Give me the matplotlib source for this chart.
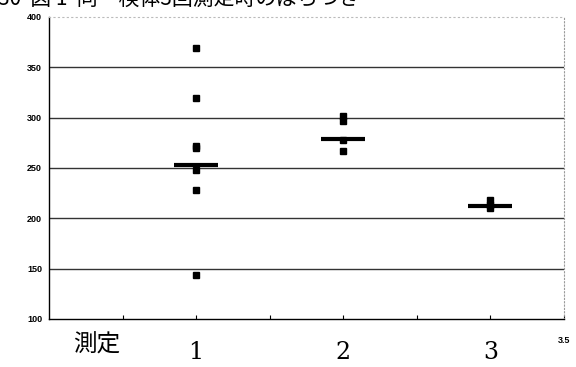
import matplotlib
matplotlib.use("Agg")
import matplotlib.pyplot as plt

# Data
groups = [1, 2, 3]
group_labels = ["1", "2", "3"]
values_1 = [369, 320, 272, 270, 248, 228, 144]
values_2 = [302, 297, 278, 267]
values_3 = [218, 213, 210]
means = [253, 279, 212]
y_ticks = [100, 150, 200, 250, 300, 350, 400]
title_text = "30  図 1  同一検体3回測定時のばらつき"
axis_label = "測定"

fig = plt.figure(figsize=(5.76, 3.67), dpi=100)
ax = fig.add_axes([0.0851, 0.1308, 0.979 - 0.0851, 0.9537 - 0.1308])

ax.set_xlim(0, 3.5)
ax.set_ylim(100, 400)

# gridlines
for y in y_ticks[1:-1]:
    ax.axhline(y, color="#333333", lw=1.0, zorder=1)

# points
for g, vals in zip(groups, [values_1, values_2, values_3]):
    ax.plot([g] * len(vals), vals, linestyle="none", marker="s",
            markersize=4.5, color="black", zorder=3)

# mean bars
for g, m in zip(groups, means):
    ax.plot([g - 0.15, g + 0.15], [m, m], color="black", lw=3, zorder=2,
            solid_capstyle="butt")

# spines
ax.spines["left"].set_color("black")
ax.spines["left"].set_linewidth(1.0)
ax.spines["bottom"].set_color("black")
ax.spines["bottom"].set_linewidth(1.0)
ax.spines["top"].set_color("#bbbbbb")
ax.spines["top"].set_linestyle((0, (1, 3)))
ax.spines["top"].set_linewidth(0.8)
ax.spines["right"].set_color("#999999")
ax.spines["right"].set_linestyle((0, (1, 2)))
ax.spines["right"].set_linewidth(0.8)

ax.set_yticks(y_ticks)
ax.set_yticklabels([str(t) for t in y_ticks], fontsize=6.5,
                   fontfamily="Liberation Sans", fontweight="bold")
ax.tick_params(axis="y", length=0, pad=5)

ax.set_xticks([0.5, 1.0, 1.5, 2.0, 2.5, 3.0, 3.5])
ax.set_xticklabels([])
ax.tick_params(axis="x", direction="in", length=3, width=0.8, color="black")

# 3.5 label at right end
ax.text(3.5, -0.07, "3.5", transform=ax.get_xaxis_transform(),
        ha="center", va="center", fontsize=6.5,
        fontfamily="Liberation Sans", fontweight="bold")

# group labels
for g, lab in zip(groups, group_labels):
    ax.text(g, -0.11, lab, transform=ax.get_xaxis_transform(),
            ha="center", va="center", fontsize=17, fontfamily="DejaVu Serif")

fig.text(97 / 576, 1 - 345 / 367, axis_label, ha="center", va="center",
         fontsize=17, fontfamily=["Noto Sans CJK JP", "DejaVu Sans"])

# title, clipped at the top edge as in the reference scan
fig.text(-2 / 576, 1 + 1 / 367, title_text, ha="left", va="center",
         fontsize=15, fontfamily=["Noto Sans CJK JP", "DejaVu Sans"])

fig.savefig("out.png", dpi=100)
